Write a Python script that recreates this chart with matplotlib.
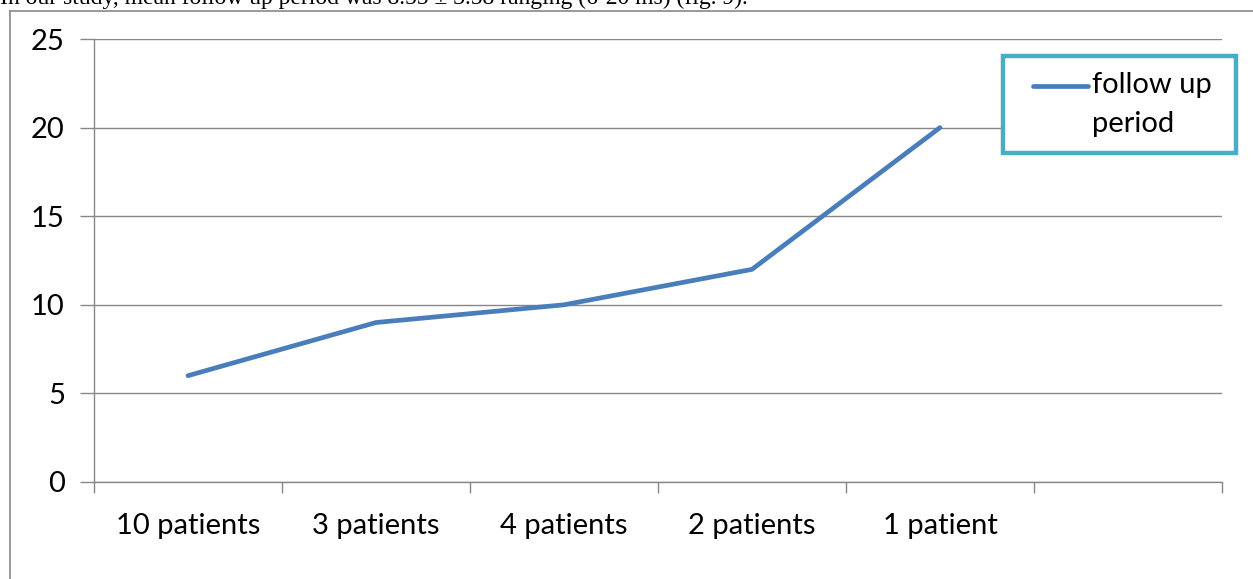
import matplotlib.pyplot as plt
from matplotlib.lines import Line2D
from matplotlib.patches import Rectangle

categories = ["10 patients", "3 patients", "4 patients", "2 patients", "1 patient", ""]
follow_up = [6, 9, 10, 12, 20]
y_ticks = [0, 5, 10, 15, 20, 25]
series_name = "follow up\nperiod"
caption = "In our study, mean follow up period was 8.55 \u00b1 3.58 ranging (6-20 ms) (fig. 9)."

LINE_BLUE = "#4a7ebb"
GRID_GRAY = "#878787"
LEGEND_EDGE = "#4bacc6"

W, H = 1253, 579
fig = plt.figure(figsize=(W / 100, H / 100), dpi=100)
plt.rcParams["font.family"] = ["Lato", "DejaVu Sans"]

# caption line of the surrounding document, cut off by the top edge
fig.text(0.0, 1 - 4 / H, caption, family="Liberation Serif", fontsize=17,
         va="baseline", ha="left", color="black")

# outer chart frame (left and top edges only show)
fig.add_artist(Line2D([10 / W, 10 / W], [0, 1 - 11 / H], color=GRID_GRAY, lw=1.2))
fig.add_artist(Line2D([10 / W, 1], [1 - 11 / H, 1 - 11 / H], color=GRID_GRAY, lw=1.2))

ax = fig.add_axes([94 / W, 1 - 482 / H, (1222 - 94) / W, (482 - 39) / H])

n = len(categories)
x = [i + 0.5 for i in range(len(follow_up))]
ax.plot(x, follow_up, color=LINE_BLUE, lw=3.4, solid_capstyle="round",
        solid_joinstyle="round", zorder=3)

ax.set_xlim(0, n)
ax.set_ylim(0, 25)
ax.set_yticks(y_ticks)
ax.set_yticklabels([str(v) for v in y_ticks])
ax.set_xticks(range(n + 1))
ax.set_xticklabels([])
ax.set_xticks([i + 0.5 for i in range(n)], minor=True)
ax.set_xticklabels(categories, minor=True)

ax.grid(axis="y", color=GRID_GRAY, lw=1.0)
ax.set_axisbelow(True)
for side in ("top", "right"):
    ax.spines[side].set_visible(False)
for side in ("left", "bottom"):
    ax.spines[side].set_color(GRID_GRAY)
    ax.spines[side].set_linewidth(1.0)

ax.tick_params(axis="y", which="major", direction="out", length=10, width=1.0,
               color=GRID_GRAY, labelsize=21, pad=11)
ax.tick_params(axis="x", which="major", direction="out", length=8, width=1.0,
               color=GRID_GRAY)
ax.tick_params(axis="x", which="minor", length=0, labelsize=21, pad=22)

# legend box
fig.add_artist(Rectangle((1003 / W, 1 - 153 / H), (1236 - 1003) / W, (153 - 56) / H,
                         transform=fig.transFigure, fill=True, facecolor="white",
                         edgecolor=LEGEND_EDGE, lw=3.2, zorder=5))
fig.add_artist(Line2D([1033 / W, 1088 / W], [1 - 86 / H, 1 - 86 / H], color=LINE_BLUE,
                      lw=3.4, solid_capstyle="round", zorder=6))
fig.text(1092 / W, 1 - 72 / H, series_name, fontsize=21, va="top", ha="left",
         linespacing=1.62, zorder=6, transform=fig.transFigure)

fig.savefig("out.png", dpi=100)
